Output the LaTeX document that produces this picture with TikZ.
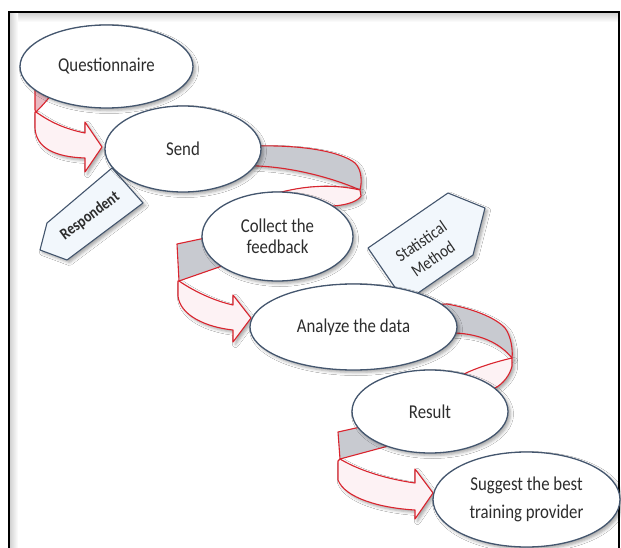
\documentclass[tikz,border=0pt]{standalone}
\usepackage{fontspec}
\usepackage{graphicx}
\setmainfont{Carlito}
\usetikzlibrary{shapes.geometric,shadows.blur}

\definecolor{ribred}{RGB}{218,36,46}
\definecolor{ribfront}{RGB}{253,242,244}
\definecolor{ribback}{RGB}{200,202,208}
\definecolor{ribbackpink}{RGB}{232,186,194}
\definecolor{ellline}{RGB}{68,86,110}
\definecolor{ellouter}{RGB}{226,234,246}
\definecolor{tagfill}{RGB}{242,247,252}
\definecolor{txt}{RGB}{45,45,45}

% white centre, faint blue rim
\pgfdeclareradialshading{ellshade}{\pgfpoint{0bp}{0bp}}{color(0bp)=(white); color(34bp)=(white); color(50bp)=(ellouter)}

% slightly taller lettering
\newcommand{\tallword}[1]{\scalebox{0.96}[1.12]{#1}}

\tikzset{
  softshadow/.style={blur shadow={shadow xshift=2.5pt, shadow yshift=-2.5pt,
      shadow blur radius=3pt, shadow opacity=35}},
  stage/.style={ellipse, draw=ellline, line width=1.3pt, shading=ellshade,
      inner sep=0pt, align=center, text=txt,
      font=\fontsize{17.5}{21}\selectfont, softshadow},
  ribfrontface/.style={fill=ribfront, draw=ribred, line width=1.1pt, line join=round},
  ribbackface/.style={fill=ribback, draw=ribred, line width=1.1pt, line join=round},
  tag/.style={fill=tagfill, draw=ellline, line width=1.1pt, line join=round, softshadow},
  tagtext/.style={inner sep=0pt, align=center, text=txt}
}

\begin{document}
\begin{tikzpicture}[x=1pt, y=-1pt]
\useasboundingbox (0,0) rectangle (621,548);

% frame with its soft inner shadow
\fill[white] (9,12) rectangle (619,548);
\shade[top color=gray!35, bottom color=white] (10,13) rectangle (618,22);
\shade[left color=gray!35, right color=white] (10,13) rectangle (18,548);
\draw[line width=2pt] (9,548) -- (9,12) -- (619,12) -- (619,548);

% ---- ribbon 1: Questionnaire -> Send
\filldraw[ribfrontface, softshadow] (36,112) .. controls (50,122) and (65,129) .. (85,133)
  -- (85,122) -- (102,147) -- (85,172) -- (85,158)
  .. controls (55,157) and (36,148) .. (35,128) -- (35,112) -- cycle;
\filldraw[ribbackface, fill=ribbackpink] (35,78) -- (35,110) -- (36,112)
  .. controls (44,104) and (50,97) .. (56,88) -- (58,78) -- cycle;

% ---- ribbon 2: Send -> Collect the feedback
\filldraw[ribbackface, softshadow] (245,143) -- (258,146)
  .. controls (300,145) and (340,151) .. (355,163)
  .. controls (362,170) and (362,182) .. (360,190)
  .. controls (340,181) and (300,168) .. (258,166) -- (245,165) -- cycle;
\filldraw[ribfrontface, softshadow] (360,190) .. controls (330,183) and (295,186) .. (262,198)
  -- (270,212) -- (330,210) -- (333,206)
  .. controls (348,205) and (358,201) .. (361,196) -- cycle;

% ---- ribbon 3: Collect the feedback -> Analyze the data
\filldraw[ribfrontface, softshadow] (179,281) .. controls (195,292) and (215,301) .. (233,305)
  -- (233,295) -- (251,318) -- (233,342) -- (233,330)
  .. controls (205,327) and (180,315) .. (178,296) -- (178,281) -- cycle;
\filldraw[ribbackface] (177,244) -- (210,237) -- (225,265) -- (179,281) -- cycle;

% ---- ribbon 4: Analyze the data -> Result
\filldraw[ribbackface, softshadow] (430,305) -- (447,304)
  .. controls (470,308) and (495,317) .. (505,328)
  .. controls (511,336) and (513,350) .. (512,358)
  .. controls (500,343) and (480,334) .. (455,333) -- (430,335) -- cycle;
\filldraw[ribfrontface, softshadow] (512,358) .. controls (495,362) and (475,368) .. (460,376)
  -- (470,395) -- (495,388)
  .. controls (503,384) and (510,375) .. (512,366) -- cycle;

% ---- ribbon 5: Result -> Suggest the best training provider
\filldraw[ribfrontface, softshadow] (340,459) .. controls (355,468) and (380,478) .. (415,483)
  -- (415,469) -- (433,493) -- (415,519) -- (415,510)
  .. controls (380,508) and (345,498) .. (338,480) -- (338,461) -- cycle;
\filldraw[ribbackface] (338,432) -- (365,426) -- (392,445) -- (340,459) -- cycle;

% ---- side tags
\filldraw[tag] (112,168) -- (143,203) -- (67,260) -- (40,250) -- (47,223) -- cycle;
\node[tagtext, rotate=36.4, font=\bfseries\fontsize{14.5}{18}\selectfont] (resp) at (90,216) {\tallword{Respondent}};

\filldraw[tag] (368,248) -- (448,193) -- (485,208) -- (473,255) -- (405,302) -- cycle;
\node[tagtext, rotate=34.5, font=\fontsize{15.5}{21}\selectfont] (stat) at (427,250) {\tallword{Statistical}\\\tallword{Method}};

% ---- process stages
\node[stage, minimum width=173pt, minimum height=83pt] (quest) at (106.5,66.5) {\tallword{Questionnaire}};
\node[stage, minimum width=156pt, minimum height=86pt] (send) at (183,149) {\tallword{Send}};
\node[stage, minimum width=151pt, minimum height=89pt] (collect) at (277.5,236.5) {\tallword{Collect the}\\\tallword{feedback}};
\node[stage, minimum width=207pt, minimum height=86pt] (analyze) at (353.5,327) {\tallword{Analyze the data}};
\node[stage, minimum width=156pt, minimum height=83pt] (result) at (430,411.5) {\tallword{Result}};
\node[stage, minimum width=187pt, minimum height=95pt, font=\fontsize{17.5}{28}\selectfont] (suggest) at (526.5,499.5) {\tallword{Suggest the best}\\\tallword{training provider}};
\end{tikzpicture}
\end{document}
